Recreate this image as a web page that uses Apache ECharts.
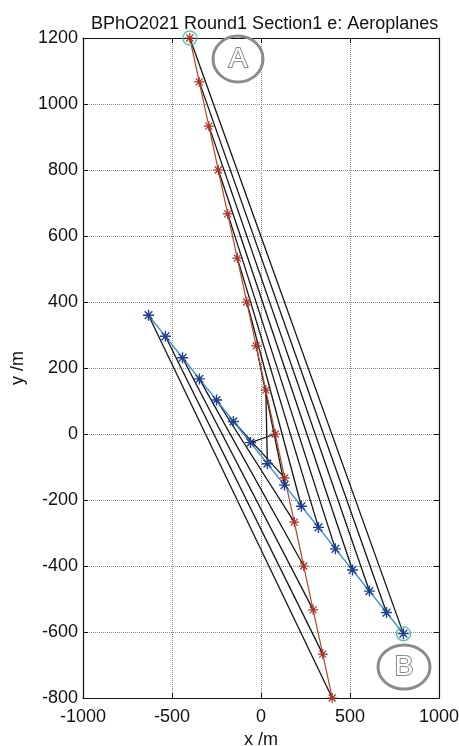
<!DOCTYPE html>
<html><head><meta charset="utf-8">
<script src="https://cdn.jsdelivr.net/npm/echarts@6/dist/echarts.min.js"></script>
<style>html,body{margin:0;padding:0;background:#fff}#c{width:459px;height:746px}</style>
</head><body><div id="c"></div>
<script>
const titleText = 'BPhO2021 Round1 Section1 e: Aeroplanes';
const xName = 'x /m';
const yName = 'y /m';
const xTicks = [-1000, -500, 0, 500, 1000];
const yTicks = [-800, -600, -400, -200, 0, 200, 400, 600, 800, 1000, 1200];
// red aeroplane (A) positions
const redX = [-400, -347, -293, -240, -187, -133, -80, -27, 27, 80, 133, 187, 240, 293, 347, 400];
const redY = [1200, 1067, 933, 800, 667, 533, 400, 267, 133, 0, -133, -267, -400, -533, -667, -800];
// blue aeroplane (B) positions
const blueX = [-632, -537, -441, -346, -250, -155, -59, 36, 132, 227, 323, 418, 514, 609, 705, 800];
const blueY = [360, 296, 231, 167, 103, 38, -26, -90, -155, -219, -283, -348, -412, -476, -541, -605];
const handLabels = ['A', 'B'];

const FONT = 'Liberation Sans, Arial, sans-serif';
const star = 'path://M5 0L5 10M0 5L10 5M1.5 1.5L8.5 8.5M8.5 1.5L1.5 8.5';
const n = redX.length;
const red = redX.map((x, i) => [x, redY[i]]);
const blue = blueX.map((x, i) => [x, blueY[i]]);

const series = [];
for (let i = 0; i < n; i++) {
  series.push({
    type: 'line', data: [red[i], blue[n - 1 - i]], symbol: 'none', z: 2, clip: false,
    lineStyle: { color: '#151515', width: 1.3 }, silent: true, animation: false
  });
}
series.push({
  type: 'line', data: red, symbol: star, symbolSize: 10, z: 4, clip: false,
  lineStyle: { color: '#b8462c', width: 1.2 },
  itemStyle: { color: 'none', borderColor: '#a8352a', borderWidth: 1.2 }, animation: false
});
series.push({
  type: 'line', data: blue, symbol: star, symbolSize: 11, z: 4, clip: false,
  lineStyle: { color: '#3d8fd4', width: 1.4 },
  itemStyle: { color: 'none', borderColor: '#1f3f90', borderWidth: 1.4 }, animation: false
});
series.push({
  type: 'scatter', data: [red[0], blue[n - 1]], symbol: 'circle', symbolSize: 14, z: 5, clip: false,
  itemStyle: { color: 'rgba(0,0,0,0)', borderColor: '#3fb89a', borderWidth: 1.5 }, animation: false
});

const axisCommon = {
  axisLine: { show: true, onZero: false, lineStyle: { color: '#111', width: 1.2 } },
  axisTick: { show: true, inside: true, length: 5, lineStyle: { color: '#111' } },
};
const fmt = v => String(v);

const chart = echarts.init(document.getElementById('c'));
chart.setOption({
  backgroundColor: '#fff',
  animation: false,
  title: {
    text: titleText, left: 86, top: 10,
    textStyle: { fontFamily: FONT, fontSize: 18, fontWeight: 'normal', color: '#111' }
  },
  grid: { left: 83, right: 20, top: 38, bottom: 48, containLabel: false, outerBoundsMode: 'none' },
  xAxis: [{
    type: 'value', min: xTicks[0], max: xTicks[xTicks.length - 1], interval: 500,
    name: xName, nameLocation: 'middle', nameGap: 30,
    nameTextStyle: { fontFamily: FONT, fontSize: 18, color: '#111' },
    ...axisCommon,
    axisLabel: { fontFamily: FONT, fontSize: 18, color: '#111', margin: 10, formatter: fmt },
    splitLine: { show: true, lineStyle: { color: '#8a8a8a', type: 'dotted', width: 1 } }
  }, {
    type: 'value', position: 'top', min: xTicks[0], max: xTicks[xTicks.length - 1], interval: 500,
    ...axisCommon, axisLabel: { show: false }, splitLine: { show: false }
  }],
  yAxis: [{
    type: 'value', min: yTicks[0], max: yTicks[yTicks.length - 1], interval: 200,
    name: yName, nameLocation: 'middle', nameGap: 56,
    nameTextStyle: { fontFamily: FONT, fontSize: 18, color: '#111' },
    ...axisCommon,
    axisLabel: { fontFamily: FONT, fontSize: 18, color: '#111', margin: 5, formatter: fmt },
    splitLine: { show: true, lineStyle: { color: '#8a8a8a', type: 'dotted', width: 1 } }
  }, {
    type: 'value', position: 'right', min: yTicks[0], max: yTicks[yTicks.length - 1], interval: 200,
    ...axisCommon, axisLabel: { show: false }, splitLine: { show: false }
  }],
  graphic: [
    { type: 'ellipse', shape: { cx: 238, cy: 59, rx: 25, ry: 23 }, style: { fill: 'none', stroke: '#8c8c8c', lineWidth: 3 }, z: 10 },
    { type: 'text', x: 238, y: 59, style: { text: handLabels[0], font: '28px ' + FONT, fill: '#fff', stroke: '#8c8c8c', lineWidth: 2, align: 'center', verticalAlign: 'middle' }, z: 10 },
    { type: 'ellipse', shape: { cx: 404, cy: 667, rx: 26, ry: 22 }, style: { fill: 'none', stroke: '#8c8c8c', lineWidth: 3 }, z: 10 },
    { type: 'text', x: 404, y: 667, style: { text: handLabels[1], font: '28px ' + FONT, fill: '#fff', stroke: '#8c8c8c', lineWidth: 2, align: 'center', verticalAlign: 'middle' }, z: 10 }
  ],
  series: series
});
</script>
</body></html>
